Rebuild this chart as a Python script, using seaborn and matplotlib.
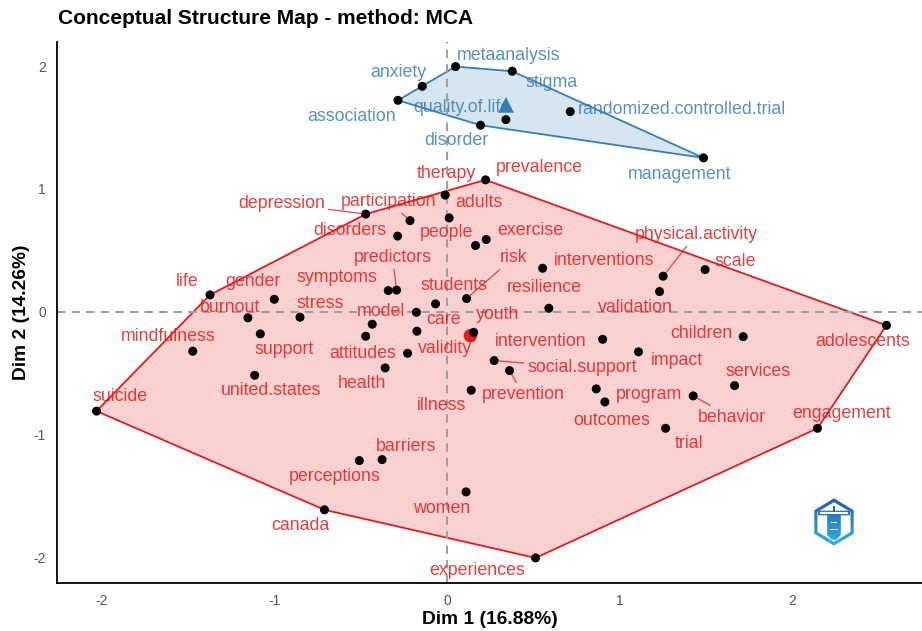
import numpy as np
import pandas as pd
import matplotlib
matplotlib.use("Agg")
import matplotlib.pyplot as plt
import seaborn as sns
from matplotlib.patches import Polygon, RegularPolygon, Rectangle
from matplotlib.colors import LinearSegmentedColormap

# ---------------- data ----------------
BLUE_TERMS = ["metaanalysis", "stigma", "anxiety", "association",
              "randomized.controlled.trial", "quality.of.life", "disorder", "management"]
BLUE_DIM1 = [0.050, 0.379, -0.143, -0.284, 0.715, 0.342, 0.195, 1.488]
BLUE_DIM2 = [1.996, 1.958, 1.835, 1.721, 1.629, 1.564, 1.518, 1.252]

RED_TERMS = ["prevalence", "therapy", "depression", "participation", "adults", "disorders",
             "people", "exercise", "interventions", "symptoms", "predictors", "students",
             "risk", "resilience", "model", "care", "validity", "attitudes", "health", "",
             "youth", "social.support", "prevention", "illness", "life", "gender", "burnout",
             "stress", "support", "mindfulness", "united.states", "suicide",
             "physical.activity", "validation", "scale", "intervention", "children",
             "adolescents", "impact", "services", "program", "outcomes", "behavior", "trial",
             "engagement", "barriers", "perceptions", "women", "canada", "experiences"]
RED_DIM1 = [0.224, -0.010, -0.471, -0.214, 0.013, -0.286,
            0.166, 0.228, 0.555, -0.340, -0.292, -0.066,
            0.114, 0.591, -0.433, -0.177, -0.228, -0.471, -0.358, -0.174,
            0.155, 0.274, 0.363, 0.141, -1.374, -1.001, -1.154,
            -0.852, -1.082, -1.474, -1.115, -2.032,
            1.254, 1.233, 1.497, 0.903, 1.718,
            2.549, 1.111, 1.668, 0.866, 0.916, 1.428, 1.268,
            2.149, -0.376, -0.508, 0.111, -0.710, 0.514]
RED_DIM2 = [1.073, 0.949, 0.794, 0.741, 0.763, 0.615,
            0.538, 0.587, 0.353, 0.171, 0.175, 0.063,
            0.106, 0.027, -0.103, -0.006, -0.340, -0.201, -0.459, -0.160,
            -0.169, -0.399, -0.481, -0.641, 0.136, 0.100, -0.051,
            -0.046, -0.182, -0.323, -0.519, -0.811,
            0.288, 0.163, 0.342, -0.226, -0.204,
            -0.112, -0.328, -0.603, -0.630, -0.736, -0.687, -0.951,
            -0.951, -1.206, -1.214, -1.469, -1.615, -2.007]

TITLE = "Conceptual Structure Map - method: MCA"
XLABEL = "Dim 1 (16.88%)"
YLABEL = "Dim 2 (14.26%)"
TICKS = [-2, -1, 0, 1, 2]

# ---------------- layout (label offsets in pixels, +y up) ----------------
LABEL_OFFSETS = {
    "metaanalysis": (52.6, 11), "stigma": (39.4, -11.6), "anxiety": (-24, 14),
    "association": (-46.3, -16), "randomized.controlled.trial": (111.7, 2),
    "quality.of.life": (-44, 12.3), "disorder": (-24, -15.3), "management": (-23.7, -16.7),
    "prevalence": (53.6, 12.6), "therapy": (0.7, 21.5), "depression": (-84, 10.8),
    "participation": (-21.7, 19.3), "adults": (29.7, 15), "disorders": (-47.7, 5.5),
    "people": (-29, 12.7), "exercise": (43.7, 9), "interventions": (61.3, 7.7),
    "symptoms": (-51, 13.3), "predictors": (-4, 32.8), "students": (18.3, 18.8),
    "risk": (46.6, 40.7), "resilience": (-4.7, 21), "model": (8.7, 13),
    "care": (26.8, -7), "validity": (37.3, 5), "attitudes": (-3.4, -17),
    "health": (-23.6, -15.4), "youth": (24, 17.4), "social.support": (87.8, -7.3),
    "prevention": (13.6, -23.7), "illness": (-29.6, -15.3), "life": (-23.3, 13.3),
    "gender": (-21, 17.7), "burnout": (-18, 10.6), "stress": (20, 13.4),
    "support": (23.7, -16), "mindfulness": (-24.4, 14.7), "united.states": (16.3, -15.3),
    "suicide": (23.6, 14.5), "physical.activity": (32.7, 41.7), "validation": (-24.4, -15.7),
    "scale": (30.4, 8), "intervention": (-62, -2.3), "children": (-41.6, 3.3),
    "adolescents": (-24, -16.3), "impact": (38, -9), "services": (23.6, 14.3),
    "program": (53, -5.4), "outcomes": (7.3, -18.7), "behavior": (38.4, -21.4),
    "trial": (23.3, -15), "engagement": (24, 14.4), "barriers": (23.6, 13.3),
    "perceptions": (-24.3, -15.7), "women": (-24, -17), "canada": (-24.6, -15.7),
    "experiences": (-58.6, -12.7),
}
SEGMENT_TERMS = {"depression", "participation", "predictors", "risk", "physical.activity",
                 "social.support", "prevention", "behavior"}

RED = "#E41A1C"
BLUE = "#377EB8"
FONT = "Liberation Sans"

df = pd.concat([
    pd.DataFrame({"term": RED_TERMS, "dim1": RED_DIM1, "dim2": RED_DIM2, "cluster": "1"}),
    pd.DataFrame({"term": BLUE_TERMS, "dim1": BLUE_DIM1, "dim2": BLUE_DIM2, "cluster": "2"}),
], ignore_index=True)
COLORS = {"1": RED, "2": BLUE}


def convex_hull(pts):
    pts = sorted(set(map(tuple, pts)))
    if len(pts) <= 2:
        return pts

    def cross(o, a, b):
        return (a[0] - o[0]) * (b[1] - o[1]) - (a[1] - o[1]) * (b[0] - o[0])
    lower, upper = [], []
    for p in pts:
        while len(lower) >= 2 and cross(lower[-2], lower[-1], p) <= 0:
            lower.pop()
        lower.append(p)
    for p in reversed(pts):
        while len(upper) >= 2 and cross(upper[-2], upper[-1], p) <= 0:
            upper.pop()
        upper.append(p)
    return lower[:-1] + upper[:-1]


sns.set_theme(style="white")
plt.rcParams["font.family"] = [FONT, "DejaVu Sans"]

fig = plt.figure(figsize=(9.22, 6.31), dpi=100)
ax = fig.add_axes([57 / 922, 48.5 / 631, 869 / 922, 540.5 / 631])

# axis limits: data range + 5% (ggplot default)
xr = df.dim1.max() - df.dim1.min()
yr = df.dim2.max() - df.dim2.min()
ax.set_xlim(df.dim1.min() - 0.05 * xr, df.dim1.max() + 0.05 * xr)
ax.set_ylim(df.dim2.min() - 0.05 * yr, df.dim2.max() + 0.05 * yr)

# hulls
for cl, sub in df.groupby("cluster"):
    hull = convex_hull(sub[["dim1", "dim2"]].values)
    ax.add_patch(Polygon(hull, closed=True, facecolor=COLORS[cl], alpha=0.2,
                         edgecolor="none", zorder=1))
    ax.add_patch(Polygon(hull, closed=True, facecolor="none", edgecolor=COLORS[cl],
                         lw=1.3, zorder=2))

ax.axhline(0, color="#A0A0A0", lw=1.5, ls=(0, (4, 3)), zorder=2.5)
ax.axvline(0, color="#A0A0A0", lw=1.5, ls=(0, (4, 3)), zorder=2.5)

# centroids
cent = df.groupby("cluster")[["dim1", "dim2"]].mean().reset_index()
sns.scatterplot(data=cent[cent.cluster == "1"], x="dim1", y="dim2", color=RED,
                s=95, marker="o", edgecolor="none", ax=ax, zorder=3, legend=False)
sns.scatterplot(data=cent[cent.cluster == "2"], x="dim1", y="dim2", color=BLUE,
                s=130, marker="^", edgecolor="none", ax=ax, zorder=3, legend=False)

# points
sns.scatterplot(data=df, x="dim1", y="dim2", color="black", s=42, edgecolor="none",
                ax=ax, zorder=4, legend=False)

# labels
for _, r in df.iterrows():
    if not r.term:
        continue
    dx, dy = LABEL_OFFSETS[r.term]
    col = COLORS[r.cluster]
    kw = {}
    if r.term in SEGMENT_TERMS:
        kw["arrowprops"] = dict(arrowstyle="-", color=col, lw=0.9, alpha=0.8,
                                shrinkA=0, shrinkB=3)
    ax.annotate(r.term, xy=(r.dim1, r.dim2), xytext=(dx, dy), textcoords="offset pixels",
                ha="center", va="center", color=col, alpha=0.85, fontsize=12.8,
                family=[FONT, "DejaVu Sans"], zorder=5, **kw)

# axes styling
for s in ["top", "right"]:
    ax.spines[s].set_visible(False)
for s in ["left", "bottom"]:
    ax.spines[s].set_color("black")
    ax.spines[s].set_linewidth(1.3)
ax.set_xticks(TICKS)
ax.set_yticks(TICKS)
ax.set_xticklabels([str(t) for t in TICKS])
ax.set_yticklabels([str(t) for t in TICKS])
ax.tick_params(axis="both", length=0, labelsize=10, labelcolor="#555555", pad=8)
ax.set_xlabel("")
ax.set_ylabel("")
ax.grid(False)

fig.text(58 / 922, 1 - 19 / 631, TITLE, ha="left", va="center", fontsize=15,
         fontweight="bold", color="black")
fig.text(490 / 922, 1 - 620 / 631, XLABEL, ha="center", va="center", fontsize=13.8,
         fontweight="bold", color="black")
fig.text(21 / 922, 1 - 312 / 631, YLABEL, ha="center", va="center", fontsize=13.8,
         fontweight="bold", color="black", rotation=90)

# logo (hexagon badge)
lax = fig.add_axes([809 / 922, 1 - 548 / 631, 50 / 922, 52 / 631])
lax.set_xlim(-1.1, 1.1)
lax.set_ylim(-1.1, 1.1)
lax.axis("off")
grad = np.linspace(0, 1, 100).reshape(-1, 1)
cmap_logo = LinearSegmentedColormap.from_list("lg", ["#2D55A8", "#2BB8EE"])
outer = RegularPolygon((0, 0), numVertices=6, radius=1.0, orientation=0,
                       facecolor="none", edgecolor="none")
lax.add_patch(outer)
im = lax.imshow(grad, extent=(-1.1, 1.1, -1.1, 1.1), cmap=cmap_logo, origin="upper",
                aspect="auto", zorder=1)
im.set_clip_path(outer)
lax.add_patch(RegularPolygon((0, 0), numVertices=6, radius=0.84, orientation=0,
                             facecolor="white", edgecolor="none", zorder=2))
shape = Polygon([(-0.7, 0.48), (0.7, 0.48), (0.7, 0.28), (0.3, 0.28), (0.3, -0.55),
                 (0.1, -0.75), (-0.1, -0.75), (-0.3, -0.55), (-0.3, 0.28),
                 (-0.7, 0.28)], closed=True, facecolor="none", edgecolor="none")
lax.add_patch(shape)
im2 = lax.imshow(grad, extent=(-1.1, 1.1, -1.1, 1.1), cmap=cmap_logo, origin="upper",
                 aspect="auto", zorder=3)
im2.set_clip_path(shape)
lax.add_patch(Rectangle((-0.62, 0.35), 1.24, 0.06, facecolor="white", edgecolor="none",
                        zorder=4))
lax.add_patch(Rectangle((-0.12, -0.05), 0.24, 0.06, facecolor="white", edgecolor="none",
                        zorder=4))
lax.add_patch(Rectangle((-0.16, -0.35), 0.32, 0.06, facecolor="white", edgecolor="none",
                        zorder=4))
lax.add_patch(Rectangle((-0.05, 0.48), 0.1, 0.2, facecolor="#2D55A8", edgecolor="none",
                        zorder=4))

fig.savefig("out.png", dpi=100)
